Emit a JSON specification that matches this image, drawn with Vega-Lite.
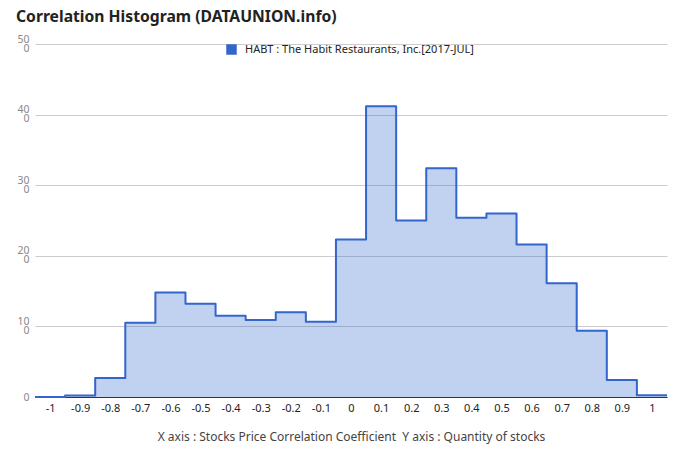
{
  "$schema": "https://vega.github.io/schema/vega-lite/v6.json",
  "width": 632,
  "height": 353,
  "autosize": "none",
  "padding": {"left": 35, "top": 44, "right": 13, "bottom": 65},
  "background": "white",
  "config": {
    "font": "Noto Sans",
    "view": {"stroke": null}
  },
  "title": {
    "text": "Correlation Histogram (DATAUNION.info)",
    "anchor": "start",
    "frame": "group",
    "dx": -19,
    "offset": -4,
    "baseline": "alphabetic",
    "fontSize": 15.7,
    "fontWeight": "bold",
    "color": "#222222",
    "font": "Noto Sans"
  },
  "data": {
    "values": [
      {"lo": -1.05, "count": 0},
      {"lo": -0.95, "count": 0.2},
      {"lo": -0.85, "count": 2.7},
      {"lo": -0.75, "count": 10.5},
      {"lo": -0.65, "count": 14.8},
      {"lo": -0.55, "count": 13.2},
      {"lo": -0.45, "count": 11.5},
      {"lo": -0.35, "count": 10.9},
      {"lo": -0.25, "count": 12.0},
      {"lo": -0.15, "count": 10.65},
      {"lo": -0.05, "count": 22.3},
      {"lo": 0.05, "count": 41.2},
      {"lo": 0.15, "count": 25.0},
      {"lo": 0.25, "count": 32.4},
      {"lo": 0.35, "count": 25.4},
      {"lo": 0.45, "count": 26.0},
      {"lo": 0.55, "count": 21.6},
      {"lo": 0.65, "count": 16.1},
      {"lo": 0.75, "count": 9.4},
      {"lo": 0.85, "count": 2.4},
      {"lo": 0.95, "count": 0.24},
      {"lo": 1.05, "count": 0.24}
    ]
  },
  "encoding": {
    "x": {
      "field": "lo",
      "type": "quantitative",
      "scale": {"domain": [-1.05, 1.05], "nice": false, "zero": false},
      "axis": {
        "values": [-1, -0.9, -0.8, -0.7, -0.6, -0.5, -0.4, -0.3, -0.2, -0.1, 0, 0.1, 0.2, 0.3, 0.4, 0.5, 0.6, 0.7, 0.8, 0.9, 1],
        "labelExpr": "'' + datum.value",
        "grid": false,
        "ticks": false,
        "domain": true,
        "domainColor": "#333333",
        "domainWidth": 1,
        "labelFontSize": 11,
        "labelColor": "#222222",
        "labelPadding": 5,
        "labelFont": "Noto Sans",
        "title": "X axis : Stocks Price Correlation Coefficient\u00a0 Y axis : Quantity of stocks",
        "titleFontSize": 12,
        "titleFontWeight": "normal",
        "titleColor": "#444444",
        "titleFont": "Noto Sans",
        "titlePadding": 18,
        "labelFlush": false,
        "labelOverlap": false
      }
    },
    "y": {
      "field": "count",
      "type": "quantitative",
      "scale": {"domain": [0, 50], "nice": false},
      "axis": {
        "values": [0, 10, 20, 30, 40, 50],
        "labelExpr": "datum.value == 0 ? '0' : [datum.value + '', '0']",
        "grid": true,
        "gridColor": "#cccccc",
        "gridWidth": 1,
        "ticks": false,
        "domain": false,
        "labelFontSize": 10.5,
        "labelColor": "#888888",
        "labelPadding": 6,
        "labelLineHeight": 9,
        "labelOffset": {"condition": {"test": "datum.value == 0", "value": 0}, "value": -5},
        "labelFont": "Noto Sans",
        "labelBaseline": "middle",
        "title": null
      }
    }
  },
  "layer": [
    {
      "mark": {"type": "area", "interpolate": "step-after", "fillOpacity": 0.3},
      "encoding": {
        "color": {
          "datum": "HABT : The Habit Restaurants, Inc.[2017-JUL]",
          "type": "nominal",
          "scale": {"range": ["#3366cc"]},
          "legend": {
            "orient": "none",
            "legendX": 191,
            "legendY": 0,
            "title": null,
            "symbolType": "square",
            "symbolSize": 110,
            "symbolOpacity": 1,
            "symbolFillColor": "#3366cc",
            "symbolStrokeWidth": 0,
            "labelFontSize": 11,
            "labelColor": "#222222",
            "labelFont": "Noto Sans",
            "labelOffset": 8,
            "labelLimit": 400
          }
        }
      }
    },
    {
      "mark": {"type": "line", "interpolate": "step-after", "color": "#3366cc", "strokeWidth": 2, "strokeJoin": "round"},
      "encoding": {}
    }
  ]
}
